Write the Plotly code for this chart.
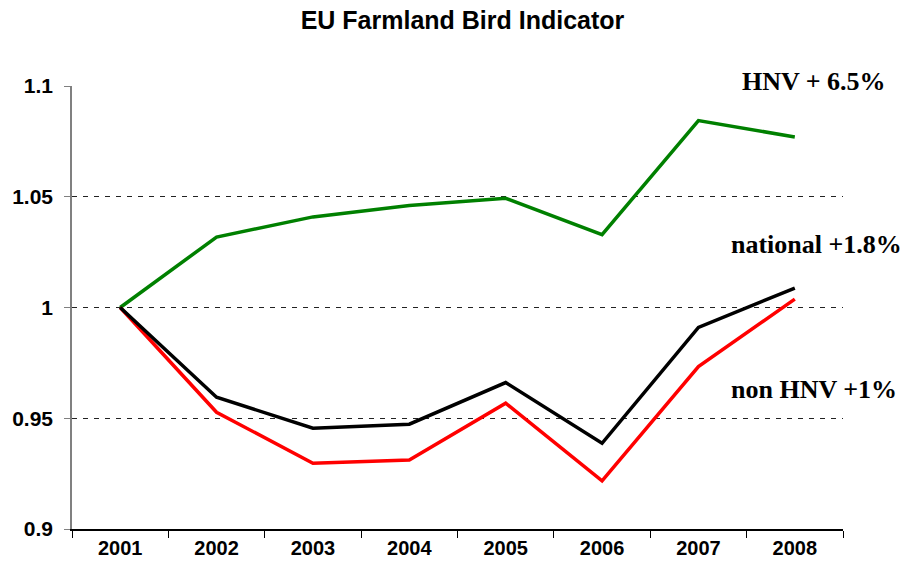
import plotly.graph_objects as go

years = ["2001", "2002", "2003", "2004", "2005", "2006", "2007", "2008"]
hnv = [1.0, 1.0318, 1.0409, 1.046, 1.0493, 1.0329, 1.0844, 1.0770]
national = [1.0, 0.9595, 0.9455, 0.9473, 0.9661, 0.9387, 0.9910, 1.0088]
non_hnv = [1.0, 0.9527, 0.9297, 0.9311, 0.9568, 0.9217, 0.9733, 1.0038]
y_ticks = [0.9, 0.95, 1.0, 1.05, 1.1]
y_tick_text = ["0.9", "0.95", "1", "1.05", "1.1"]
labels = ["HNV + 6.5%", "national +1.8%", "non HNV +1%"]

fig = go.Figure()
fig.add_trace(go.Scatter(x=years, y=hnv, mode="lines", line=dict(color="#008000", width=3.5), name="HNV"))
fig.add_trace(go.Scatter(x=years, y=non_hnv, mode="lines", line=dict(color="#FF0000", width=3.5), name="non HNV"))
fig.add_trace(go.Scatter(x=years, y=national, mode="lines", line=dict(color="#000000", width=3.5), name="national"))

ann_font = dict(family="Liberation Serif", size=26, color="black")
ann_pos = [(0.962, 1.011), (0.966, 0.643), (0.962, 0.314)]
for txt, (ax, ay) in zip(labels, ann_pos):
    fig.add_annotation(x=ax, y=ay, xref="paper", yref="paper", text="<b>%s</b>" % txt,
                       showarrow=False, font=ann_font, xanchor="center", yanchor="middle")

# 8px body margin in page: shift margins accordingly
fig.update_layout(
    width=909, height=577,
    margin=dict(l=64, r=74, t=78, b=56),
    paper_bgcolor="white", plot_bgcolor="white",
    showlegend=False,
    title=dict(text="<b>EU Farmland Bird Indicator</b>", x=0.5, xanchor="center", y=0.978, yanchor="middle",
               font=dict(family="Liberation Sans", size=25, color="black")),
    font=dict(family="Liberation Sans", color="black"),
)
fig.update_xaxes(type="category", showgrid=False, showline=True, linecolor="black", linewidth=1.5,
                 ticks="outside", tickson="boundaries", ticklen=7, tickcolor="black",
                 tickfont=dict(family="Liberation Sans", size=20, color="black"),
                 tickprefix="<b>", ticksuffix="</b>", range=[-0.5, 7.5], automargin=False)
fig.update_yaxes(range=[0.9, 1.1], tickvals=y_ticks, ticktext=["<b>%s</b>" % t for t in y_tick_text],
                 showgrid=True, gridcolor="#222222", griddash="5px,6px", gridwidth=1,
                 showline=True, linecolor="#808080", linewidth=1.5,
                 ticks="outside", ticklen=6, tickcolor="#808080", ticklabelstandoff=7,
                 tickfont=dict(family="Liberation Sans", size=21, color="black"), zeroline=False,
                 automargin=False)
fig.write_html("out.html")
